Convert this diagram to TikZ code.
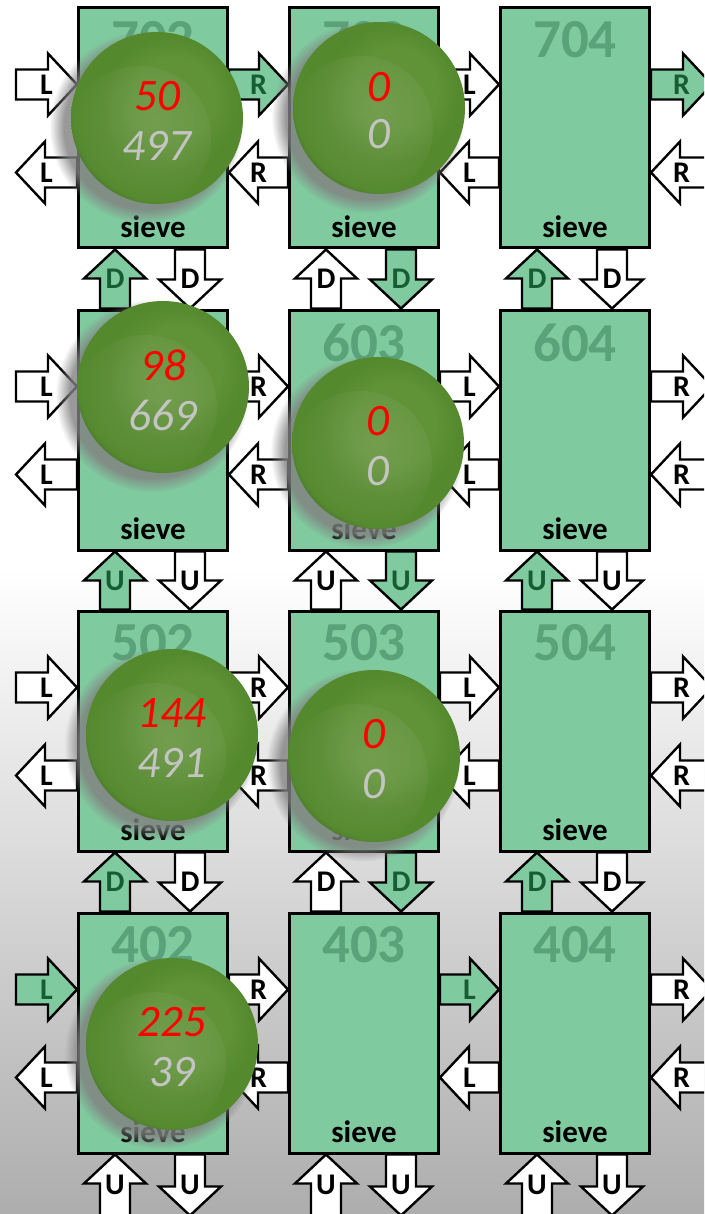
\documentclass[tikz,border=0pt]{standalone}
\usepackage{fontspec}
\setmainfont{Carlito}
\usetikzlibrary{positioning,calc,shadows,fadings}

\definecolor{tilegreen}{RGB}{128,202,160}
\definecolor{idgreen}{RGB}{90,162,122}
\definecolor{lbldark}{RGB}{22,92,52}
\definecolor{ballmid}{RGB}{96,146,56}
\definecolor{ballbase}{RGB}{84,137,46}
\definecolor{balldark}{RGB}{44,80,30}
\definecolor{ballhi}{RGB}{150,180,120}
\definecolor{oldgrey}{RGB}{196,196,196}

\pgfdeclareradialshading{ballbody}{\pgfpoint{7bp}{8bp}}{%
  color(0bp)=(ballmid); color(12bp)=(ballmid); color(20bp)=(ballbase);
  color(27bp)=(ballbase); color(33bp)=(balldark); color(40bp)=(balldark)}
\tikzfading[name=glow, inner color=transparent!65, outer color=transparent!100]

\begin{document}
\begin{tikzpicture}[
    x=1pt, y=-1pt,
    tile/.style={draw, line width=3pt, fill=tilegreen, minimum width=149pt, minimum height=240pt, inner sep=0pt},
    tileid/.style={inner sep=0pt, text=idgreen, font=\fontsize{55}{55}\selectfont\bfseries},
    tilename/.style={inner sep=0pt, font=\fontsize{31}{31}\selectfont\bfseries},
    arrowlbl/.style={inner sep=0pt, font=\fontsize{30}{30}\selectfont\bfseries},
    blockarrow/.style 2 args={draw=black, line width=2.4pt, to path={
        ($(\tikztostart)!15pt!90:(\tikztotarget)$)
        -- ($(\tikztotarget)!29pt!(\tikztostart)!15pt!90:(\tikztotarget)$)
        -- ($(\tikztotarget)!29pt!(\tikztostart)!31pt!90:(\tikztotarget)$)
        -- (\tikztotarget)
        -- ($(\tikztotarget)!29pt!(\tikztostart)!31pt!-90:(\tikztotarget)$)
        -- ($(\tikztotarget)!29pt!(\tikztostart)!15pt!-90:(\tikztotarget)$)
        -- ($(\tikztostart)!15pt!-90:(\tikztotarget)$) -- cycle
        ($(\tikztostart)!.5!(\tikztotarget)$) node[arrowlbl, text=#2] {#1}}},
    warrow/.style={blockarrow={#1}{black}, fill=white},
    garrow/.style={blockarrow={#1}{lbldark}, fill=tilegreen},
    eastbound/.style={yshift=-78pt},
    westbound/.style={yshift=-166pt},
    northbound/.style={xshift=38pt},
    southbound/.style={xshift=113pt},
    offw/.style={xshift=-61pt},
    offe/.style={xshift=61pt},
    offs/.style={yshift=-61pt},
    counter/.style={circle, minimum size=172pt, inner sep=0pt, shade, shading=ballbody,
        circular drop shadow={shadow xshift=-10pt, shadow yshift=-8pt, shadow scale=1.12, opacity=.8},
        path picture={\fill[ballhi, path fading=glow] ([xshift=-18pt,yshift=-20pt]path picture bounding box.center) circle (72pt);}},
    newcount/.style={inner sep=0pt, text=red, font=\fontsize{45}{45}\selectfont\itshape},
    oldcount/.style={inner sep=0pt, text=oldgrey, font=\fontsize{45}{45}\selectfont\itshape}
]

\useasboundingbox (0,0) rectangle (704,1214);
\clip (0,0) rectangle (704,1214);

% backdrop, fading to grey towards the bottom
\fill[top color=white, bottom color=black!32] (0,570) rectangle (704,1214);

% Define tile positions
\node[tile] (t702) at (153,128) {};
\node[tile] (t703) at (364,128) {};
\node[tile] (t704) at (575,128) {};
\node[tile] (t602) at (153,430) {};
\node[tile] (t603) at (364,430) {};
\node[tile] (t604) at (575,430) {};
\node[tile] (t502) at (153,731) {};
\node[tile] (t503) at (364,731) {};
\node[tile] (t504) at (575,731) {};
\node[tile] (t402) at (153,1033) {};
\node[tile] (t403) at (364,1033) {};
\node[tile] (t404) at (575,1033) {};

% Tile numbers
\node[tileid, below=15pt of t702.north] (n702) {702};
\node[tileid, below=15pt of t703.north] (n703) {703};
\node[tileid, below=15pt of t704.north] (n704) {704};
\node[tileid, below=15pt of t603.north] (n603) {603};
\node[tileid, below=15pt of t604.north] (n604) {604};
\node[tileid, below=15pt of t502.north] (n502) {502};
\node[tileid, below=15pt of t503.north] (n503) {503};
\node[tileid, below=15pt of t504.north] (n504) {504};
\node[tileid, below=15pt of t402.north] (n402) {402};
\node[tileid, below=15pt of t403.north] (n403) {403};
\node[tileid, below=15pt of t404.north] (n404) {404};

% Kernel name at the bottom of each tile
\node[tilename, above=12pt of t702.south] (s702) {sieve};
\node[tilename, above=12pt of t703.south] (s703) {sieve};
\node[tilename, above=12pt of t704.south] (s704) {sieve};
\node[tilename, above=12pt of t602.south] (s602) {sieve};
\node[tilename, above=12pt of t603.south] (s603) {sieve};
\node[tilename, above=12pt of t604.south] (s604) {sieve};
\node[tilename, above=12pt of t502.south] (s502) {sieve};
\node[tilename, above=12pt of t503.south] (s503) {sieve};
\node[tilename, above=12pt of t504.south] (s504) {sieve};
\node[tilename, above=12pt of t402.south] (s402) {sieve};
\node[tilename, above=12pt of t403.south] (s403) {sieve};
\node[tilename, above=12pt of t404.south] (s404) {sieve};

% Row 7 streams
\draw[warrow=L] ([eastbound,offw]t702.north west) to ([eastbound]t702.north west);
\draw[warrow=L] ([westbound]t702.north west) to ([westbound,offw]t702.north west);
\draw[garrow=R] ([eastbound]t702.north east) to ([eastbound]t703.north west);
\draw[warrow=R] ([westbound]t703.north west) to ([westbound]t702.north east);
\draw[warrow=L] ([eastbound]t703.north east) to ([eastbound]t704.north west);
\draw[warrow=L] ([westbound]t704.north west) to ([westbound]t703.north east);
\draw[garrow=R] ([eastbound]t704.north east) to ([eastbound,offe]t704.north east);
\draw[warrow=R] ([westbound,offe]t704.north east) to ([westbound]t704.north east);

% Row 6 streams
\draw[warrow=L] ([eastbound,offw]t602.north west) to ([eastbound]t602.north west);
\draw[warrow=L] ([westbound]t602.north west) to ([westbound,offw]t602.north west);
\draw[warrow=R] ([eastbound]t602.north east) to ([eastbound]t603.north west);
\draw[warrow=R] ([westbound]t603.north west) to ([westbound]t602.north east);
\draw[warrow=L] ([eastbound]t603.north east) to ([eastbound]t604.north west);
\draw[warrow=L] ([westbound]t604.north west) to ([westbound]t603.north east);
\draw[warrow=R] ([eastbound]t604.north east) to ([eastbound,offe]t604.north east);
\draw[warrow=R] ([westbound,offe]t604.north east) to ([westbound]t604.north east);

% Row 5 streams
\draw[warrow=L] ([eastbound,offw]t502.north west) to ([eastbound]t502.north west);
\draw[warrow=L] ([westbound]t502.north west) to ([westbound,offw]t502.north west);
\draw[warrow=R] ([eastbound]t502.north east) to ([eastbound]t503.north west);
\draw[warrow=R] ([westbound]t503.north west) to ([westbound]t502.north east);
\draw[warrow=L] ([eastbound]t503.north east) to ([eastbound]t504.north west);
\draw[warrow=L] ([westbound]t504.north west) to ([westbound]t503.north east);
\draw[warrow=R] ([eastbound]t504.north east) to ([eastbound,offe]t504.north east);
\draw[warrow=R] ([westbound,offe]t504.north east) to ([westbound]t504.north east);

% Row 4 streams
\draw[garrow=L] ([eastbound,offw]t402.north west) to ([eastbound]t402.north west);
\draw[warrow=L] ([westbound]t402.north west) to ([westbound,offw]t402.north west);
\draw[warrow=R] ([eastbound]t402.north east) to ([eastbound]t403.north west);
\draw[warrow=R] ([westbound]t403.north west) to ([westbound]t402.north east);
\draw[garrow=L] ([eastbound]t403.north east) to ([eastbound]t404.north west);
\draw[warrow=L] ([westbound]t404.north west) to ([westbound]t403.north east);
\draw[warrow=R] ([eastbound]t404.north east) to ([eastbound,offe]t404.north east);
\draw[warrow=R] ([westbound,offe]t404.north east) to ([westbound]t404.north east);

% Vertical streams between rows 7 and 6
\draw[garrow=D] ([northbound]t602.north west) to ([northbound]t702.south west);
\draw[warrow=D] ([southbound]t702.south west) to ([southbound]t602.north west);
\draw[warrow=D] ([northbound]t603.north west) to ([northbound]t703.south west);
\draw[garrow=D] ([southbound]t703.south west) to ([southbound]t603.north west);
\draw[garrow=D] ([northbound]t604.north west) to ([northbound]t704.south west);
\draw[warrow=D] ([southbound]t704.south west) to ([southbound]t604.north west);

% between rows 6 and 5
\draw[garrow=U] ([northbound]t502.north west) to ([northbound]t602.south west);
\draw[warrow=U] ([southbound]t602.south west) to ([southbound]t502.north west);
\draw[warrow=U] ([northbound]t503.north west) to ([northbound]t603.south west);
\draw[garrow=U] ([southbound]t603.south west) to ([southbound]t503.north west);
\draw[garrow=U] ([northbound]t504.north west) to ([northbound]t604.south west);
\draw[warrow=U] ([southbound]t604.south west) to ([southbound]t504.north west);

% between rows 5 and 4
\draw[garrow=D] ([northbound]t402.north west) to ([northbound]t502.south west);
\draw[warrow=D] ([southbound]t502.south west) to ([southbound]t402.north west);
\draw[warrow=D] ([northbound]t403.north west) to ([northbound]t503.south west);
\draw[garrow=D] ([southbound]t503.south west) to ([southbound]t403.north west);
\draw[garrow=D] ([northbound]t404.north west) to ([northbound]t504.south west);
\draw[warrow=D] ([southbound]t504.south west) to ([southbound]t404.north west);

% below row 4
\draw[warrow=U] ([northbound,offs]t402.south west) to ([northbound]t402.south west);
\draw[warrow=U] ([southbound]t402.south west) to ([southbound,offs]t402.south west);
\draw[warrow=U] ([northbound,offs]t403.south west) to ([northbound]t403.south west);
\draw[warrow=U] ([southbound]t403.south west) to ([southbound,offs]t403.south west);
\draw[warrow=U] ([northbound,offs]t404.south west) to ([northbound]t404.south west);
\draw[warrow=U] ([southbound]t404.south west) to ([southbound,offs]t404.south west);

% Counters on the busy tiles
\node[counter] (c702) at (157,118) {};
\node[counter] (c703) at (379,108) {};
\node[counter] (c602) at (163,387) {};
\node[counter] (c603) at (378,443) {};
\node[counter] (c502) at (172,735) {};
\node[counter] (c503) at (374,756) {};
\node[counter] (c402) at (172,1044) {};

% new count above, old count below
\node[newcount] (r702) at ([yshift=22pt]c702) {50};
\node[oldcount] (o702) at ([yshift=-28pt]c702) {497};
\node[newcount] (r703) at ([yshift=21pt]c703) {0};
\node[oldcount] (o703) at ([yshift=-26pt]c703) {0};
\node[newcount] (r602) at ([yshift=22pt]c602) {98};
\node[oldcount] (o602) at ([yshift=-28pt]c602) {669};
\node[newcount] (r603) at ([yshift=22pt]c603) {0};
\node[oldcount] (o603) at ([yshift=-28pt]c603) {0};
\node[newcount] (r502) at ([yshift=22pt]c502) {144};
\node[oldcount] (o502) at ([yshift=-28pt]c502) {491};
\node[newcount] (r503) at ([yshift=22pt]c503) {0};
\node[oldcount] (o503) at ([yshift=-28pt]c503) {0};
\node[newcount] (r402) at ([yshift=22pt]c402) {225};
\node[oldcount] (o402) at ([yshift=-28pt]c402) {39};

\end{tikzpicture}
\end{document}
